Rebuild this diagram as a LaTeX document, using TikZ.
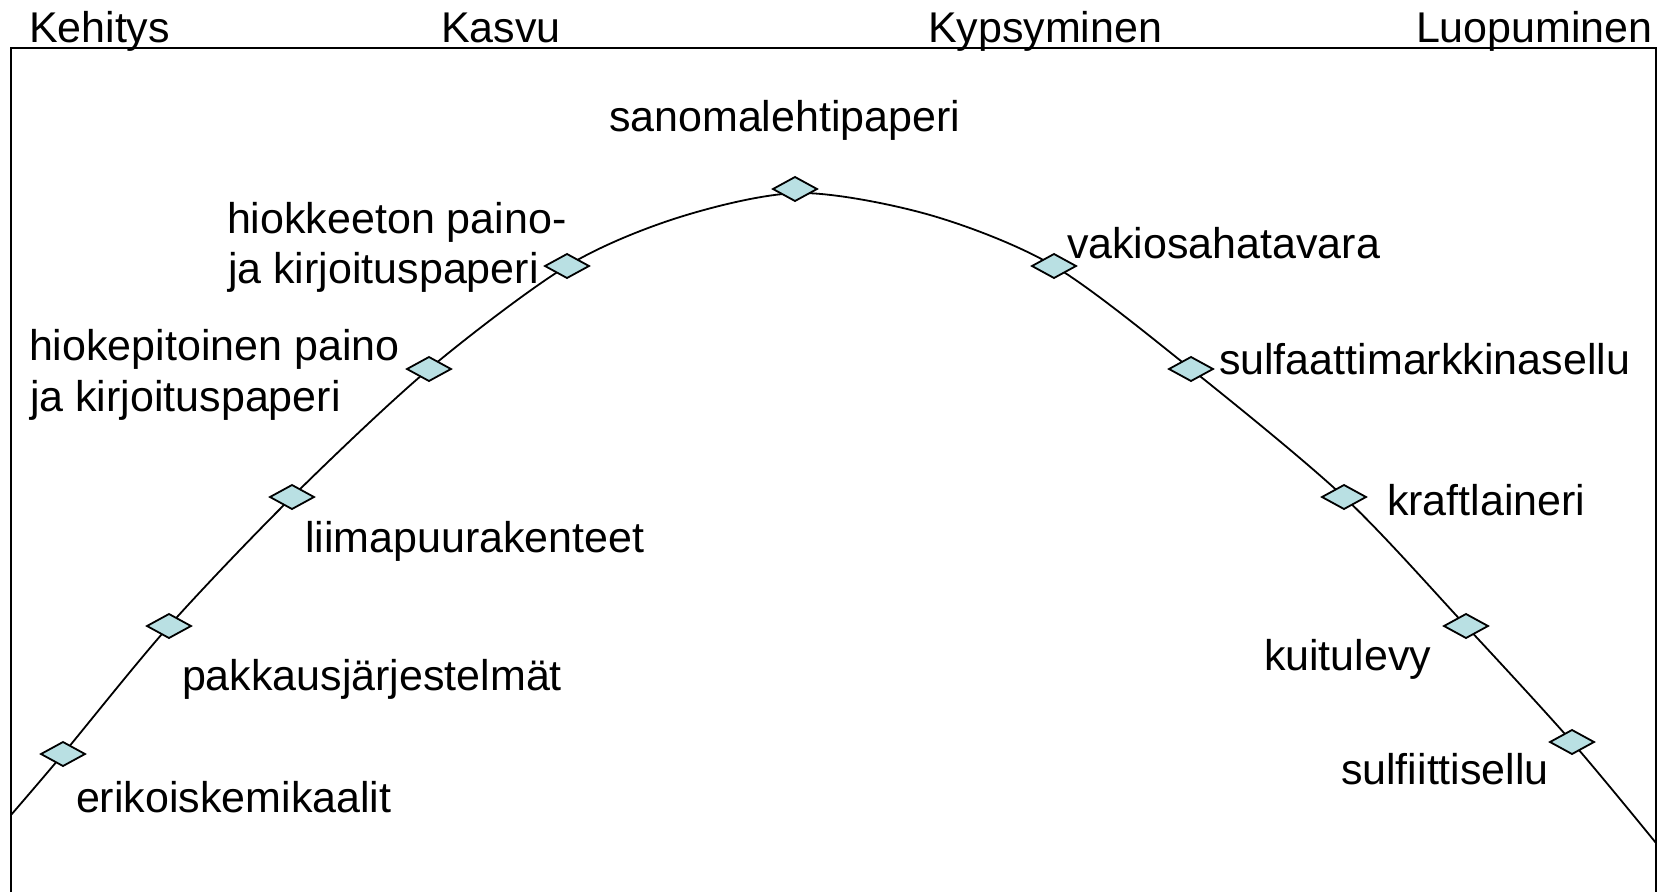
\documentclass[tikz,border=0pt]{standalone}
\usepackage{fontspec}
\setmainfont{Liberation Sans}
\usetikzlibrary{shapes.geometric}
\definecolor{markfill}{HTML}{B9E0E3}
\begin{document}
\begin{tikzpicture}[x=1pt,y=-1pt,
  lbl/.style={anchor=base west,inner sep=0pt,outer sep=0pt,font=\fontsize{43}{51}\selectfont},
  mk/.style={diamond,draw=black,line width=1.8pt,fill=markfill,minimum width=44pt,minimum height=24pt,inner sep=0pt,outer sep=0pt},
  curveline/.style={line width=1.8pt,black},
  frameline/.style={line width=2pt,black}]
\useasboundingbox (0,0) rectangle (1668,892);
% frame
\coordinate (fbl) at (11,892);
\coordinate (ftl) at (11,48);
\coordinate (ftr) at (1656,48);
\coordinate (fbr) at (1656,892);
\draw[frameline] (fbl) -- (ftl) -- (ftr) -- (fbr);
% marker positions
\coordinate (p1) at (63,754);
\coordinate (p2) at (169,626);
\coordinate (p3) at (292,497);
\coordinate (p4) at (429,369);
\coordinate (p5) at (567,266);
\coordinate (p6) at (795,189);
\coordinate (p7) at (1054,266);
\coordinate (p8) at (1191,369);
\coordinate (p9) at (1344,497);
\coordinate (p10) at (1466,626);
\coordinate (p11) at (1572,742);
% extra curve points
\coordinate (cL) at (11,815);
\coordinate (cA) at (680,217);
\coordinate (cTop) at (800,193);
\coordinate (cB) at (930,215);
\coordinate (cR) at (1656,843);
\draw[curveline] plot[smooth,tension=0.5] coordinates {(cL) (p1) (p2) (p3) (p4) (p5) (cA) (cTop) (cB) (p7) (p8) (p9) (p10) (p11) (cR)};
% markers
\foreach \i in {1,...,11} \node[mk] (d\i) at (p\i) {};
% phase labels
\node[lbl] (kehitys) at (29,42) {Kehitys};
\node[lbl] (kasvu) at (441,42) {Kasvu};
\node[lbl] (kypsyminen) at (928,42) {Kypsyminen};
\node[lbl] (luopuminen) at (1416,42) {Luopuminen};
% product labels
\node[lbl] (t6) at (609,131) {sanomalehtipaperi};
\node[lbl] (t5a) at (227,233) {hiokkeeton paino-};
\node[lbl] (t5b) at (228,283) {ja kirjoituspaperi};
\node[lbl] (t4a) at (29,360) {hiokepitoinen paino};
\node[lbl] (t4b) at (30,411) {ja kirjoituspaperi};
\node[lbl] (t3) at (305,552) {liimapuurakenteet};
\node[lbl] (t2) at (182,690) {pakkausjärjestelmät};
\node[lbl] (t1) at (76,812) {erikoiskemikaalit};
\node[lbl] (t7) at (1067,258) {vakiosahatavara};
\node[lbl] (t8) at (1219,374) {sulfaattimarkkinasellu};
\node[lbl] (t9) at (1387,515) {kraftlaineri};
\node[lbl] (t10) at (1264,670) {kuitulevy};
\node[lbl] (t11) at (1341,784) {sulfiittisellu};
\end{tikzpicture}
\end{document}
